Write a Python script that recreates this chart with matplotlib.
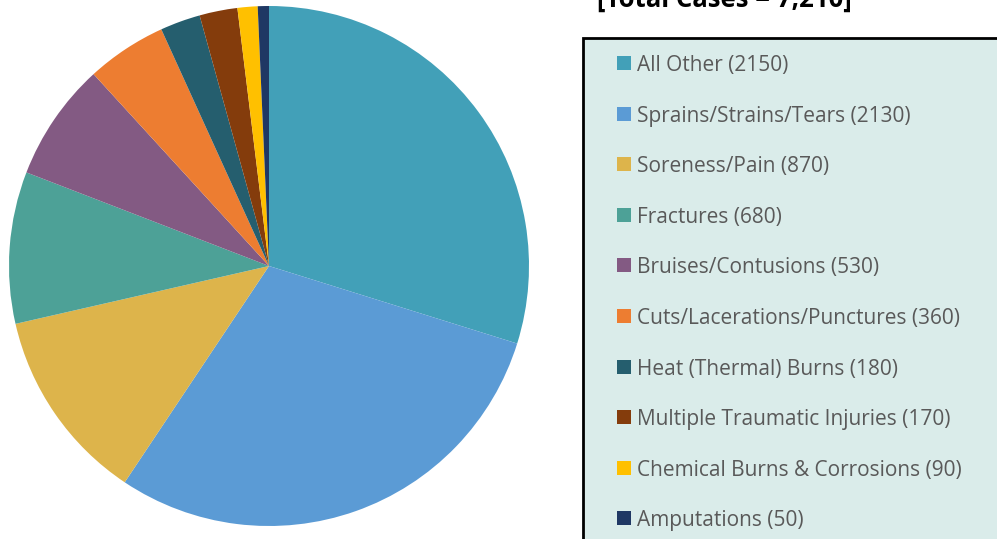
import matplotlib.pyplot as plt
from matplotlib.patches import Rectangle

# Injury categories (clockwise from 12 o'clock)
categories = ['All Other', 'Sprains/Strains/Tears', 'Soreness/Pain', 'Fractures',
              'Bruises/Contusions', 'Cuts/Lacerations/Punctures',
              'Heat (Thermal) Burns', 'Multiple Traumatic Injuries',
              'Chemical Burns & Corrosions', 'Amputations']
cases = [2150, 2130, 870, 680, 530, 360, 180, 170, 90, 50]
colors = ['#42A0B8', '#5B9BD5', '#DDB44B', '#4DA197', '#835A83',
          '#ED7D31', '#255E6E', '#843C0C', '#FFC000', '#1F3864']

W, H = 997, 539
fig = plt.figure(figsize=(W / 100, H / 100), dpi=100)
fig.patch.set_facecolor('white')

# pie centred at (269, 266) px with radius 260 px
cx, cy, r = 269, 266, 260
ax = fig.add_axes([(cx - r) / W, (H - cy - r) / H, 2 * r / W, 2 * r / H])
wedges, _ = ax.pie(cases, colors=colors, startangle=90, counterclock=False,
                   wedgeprops=dict(linewidth=0))
ax.set_xlim(-1, 1)
ax.set_ylim(-1, 1)
ax.set_aspect('equal')
ax.axis('off')

# title (cut off at the top in the original)
fig.text(724 / W, 1 - 7 / H, '[Total Cases = 7,210]', ha='center', va='baseline',
         fontsize=18.5, fontweight='bold', color='black', family='Open Sans')

# legend box running past the right and bottom edges
box = Rectangle((583 / W, -0.05), 0.5, 1 - 38 / H + 0.05, transform=fig.transFigure,
                facecolor='#DAECEA', edgecolor='black', linewidth=2, clip_on=False)
fig.patches.append(box)

row0, step = 63, 50.6
for i, (w, name, n) in enumerate(zip(wedges, categories, cases)):
    yc = row0 + step * i
    fig.patches.append(Rectangle((617 / W, 1 - (yc + 7) / H), 14 / W, 14 / H,
                                 transform=fig.transFigure,
                                 facecolor=w.get_facecolor(), edgecolor='none'))
    fig.text(637 / W, 1 - yc / H, f'{name} ({n})', ha='left', va='center_baseline',
             fontsize=15, color='#595959', family='Open Sans')

fig.savefig('out.png', dpi=100, facecolor='white')
